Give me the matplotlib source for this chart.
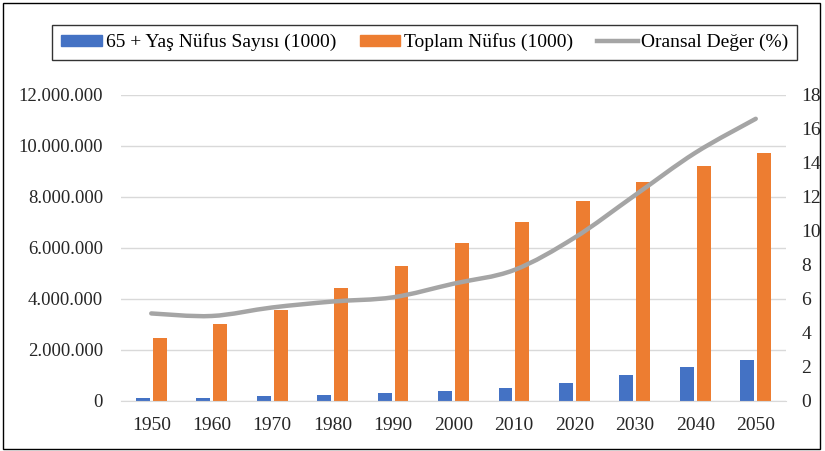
import numpy as np
import matplotlib
matplotlib.use("Agg")
import matplotlib.pyplot as plt
from matplotlib.patches import Rectangle, Patch
from matplotlib.lines import Line2D
from matplotlib.path import Path
from matplotlib.patches import PathPatch
from matplotlib.ticker import FuncFormatter, MultipleLocator

years = ["1950", "1960", "1970", "1980", "1990", "2000", "2010", "2020", "2030", "2040", "2050"]
pop_65 = [120000, 120000, 200000, 240000, 320000, 400000, 520000, 720000, 1000000, 1330000, 1600000]
pop_total = [2480000, 3000000, 3580000, 4450000, 5300000, 6180000, 7000000, 7850000, 8570000, 9200000, 9720000]
ratio = [5.15, 5.0, 5.5, 5.85, 6.1, 6.9, 7.7, 9.6, 12.1, 14.6, 16.6]

labels = ["65 + Yaş Nüfus Sayısı (1000)", "Toplam Nüfus (1000)", "Oransal Değer (%)"]

BLUE = "#4472C4"
ORANGE = "#ED7D31"
GREY = "#A5A5A5"
GRID = "#D9D9D9"

plt.rcParams["font.family"] = ["Liberation Serif", "DejaVu Serif"]
plt.rcParams["font.size"] = 14


def smooth_path(x, y):
    # Excel-style smoothed line: catmull-rom turned into cubic bezier segments
    x = np.asarray(x, float)
    y = np.asarray(y, float)
    verts = [(x[0], y[0])]
    codes = [Path.MOVETO]
    n = len(x)
    for i in range(n - 1):
        p0 = (x[max(i - 1, 0)], y[max(i - 1, 0)])
        p1 = (x[i], y[i])
        p2 = (x[i + 1], y[i + 1])
        p3 = (x[min(i + 2, n - 1)], y[min(i + 2, n - 1)])
        c1 = (p1[0] + (p2[0] - p0[0]) / 6, p1[1] + (p2[1] - p0[1]) / 6)
        c2 = (p2[0] - (p3[0] - p1[0]) / 6, p2[1] - (p3[1] - p1[1]) / 6)
        verts += [c1, c2, p2]
        codes += [Path.CURVE4] * 3
    return Path(verts, codes)


fig = plt.figure(figsize=(8.25, 4.51), dpi=100)
ax = fig.add_axes([0.1467, 0.1109, 0.8060, 0.6785])

x = np.arange(len(years))
w = 0.23
ax.bar(x - 0.14, pop_65, width=w, color=BLUE, zorder=2)
ax.bar(x + 0.14, pop_total, width=w, color=ORANGE, zorder=2)

ax.set_xlim(-0.5, len(years) - 0.5)
ax.set_ylim(0, 12000000)
ax.yaxis.set_major_locator(MultipleLocator(2000000))
ax.yaxis.set_major_formatter(FuncFormatter(lambda v, p: f"{int(v):,}".replace(",", ".")))
ax.grid(axis="y", color=GRID, linewidth=1, zorder=0)
ax.set_axisbelow(True)
ax.set_xticks(x)
ax.set_xticklabels(years)
for s in ["top", "left", "right"]:
    ax.spines[s].set_visible(False)
ax.spines["bottom"].set_color(GRID)
ax.tick_params(axis="both", length=0, colors="#262626")
ax.tick_params(axis="y", labelsize=13.5, pad=13)
ax.tick_params(axis="x", labelsize=14, pad=11.5)

ax2 = ax.twinx()
ax2.set_ylim(0, 18)
ax2.yaxis.set_major_locator(MultipleLocator(2))
ax2.add_patch(PathPatch(smooth_path(x, ratio), facecolor="none", edgecolor=GREY,
                        linewidth=3.2, capstyle="round", joinstyle="round"))
for s in ["top", "left", "right", "bottom"]:
    ax2.spines[s].set_visible(False)
ax2.tick_params(axis="y", length=0, labelsize=14, pad=11, colors="#262626")

handles = [Patch(color=BLUE), Patch(color=ORANGE), Line2D([], [], color=GREY, linewidth=3.2)]
leg = fig.legend(handles, labels, loc="center", bbox_to_anchor=(0.515, 0.906), ncol=3,
                 frameon=True, fancybox=False, edgecolor="black", fontsize=14,
                 handlelength=2.1, handleheight=0.5, handletextpad=0.2,
                 columnspacing=1.2, borderpad=0.45, borderaxespad=0)
leg.get_frame().set_linewidth(1.0)

fig.patches.append(Rectangle((0.004, 0.004), 0.99, 0.99, transform=fig.transFigure,
                             fill=False, edgecolor="black", linewidth=1.0))

fig.savefig("out.png", dpi=100)
